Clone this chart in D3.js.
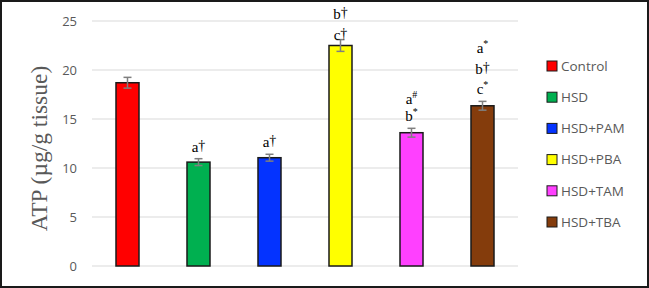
<!DOCTYPE html>
<html><head><meta charset="utf-8">
<script src="https://cdn.jsdelivr.net/npm/d3@7"></script>
<style>body{margin:0;background:#fff}</style>
</head><body>
<script>
const categories = ["Control","HSD","HSD+PAM","HSD+PBA","HSD+TAM","HSD+TBA"];
const values = [18.7, 10.6, 11.05, 22.5, 13.6, 16.35];
const errors = [0.55, 0.35, 0.35, 0.6, 0.45, 0.45];
const colors = ["#ff0000","#00b050","#0433ff","#ffff00","#ff40ff","#843c0c"];
// annotation lines per bar: [letter, symbol]
const annotations = [
  [],
  [["a","†"]],
  [["a","†"]],
  [["b","†"],["c","†"]],
  [["a","#"],["b","*"]],
  [["a","*"],["b","†"],["c","*"]]
];
const yTicks = [0,5,10,15,20,25];

const W = 649, H = 288;
const svg = d3.select("body").append("svg").attr("width",W).attr("height",H);
svg.append("rect").attr("x",1).attr("y",1).attr("width",W-2).attr("height",H-2)
  .attr("fill","#fff").attr("stroke","#1a1a1a").attr("stroke-width",2);

const x = d3.scaleBand().domain(categories).range([92,518]).paddingInner(0.676).paddingOuter(0.338);
const y = d3.scaleLinear().domain([0,25]).range([266,21]);

// gridlines
svg.append("g").selectAll("line").data(yTicks).join("line")
  .attr("x1",92).attr("x2",518).attr("y1",d=>y(d)).attr("y2",d=>y(d))
  .attr("stroke","#d9d9d9").attr("stroke-width",1.2);

// y axis labels
const yAxis = d3.axisLeft(y).tickValues(yTicks).tickSize(0).tickPadding(0);
const ga = svg.append("g").attr("transform","translate(77,0)").call(yAxis);
ga.select(".domain").remove();
ga.selectAll("text").attr("font-family","'Open Sans', sans-serif").attr("font-size",13).attr("fill","#595959");

// y title
svg.append("text").attr("transform","translate(47,148.5) rotate(-90)")
  .attr("text-anchor","middle").attr("font-family","'Liberation Serif', serif")
  .attr("font-size",23.5).attr("fill","#595959").text("ATP (µg/g tissue)");

// bars
svg.append("g").selectAll("rect").data(categories).join("rect")
  .attr("x",d=>x(d)).attr("width",x.bandwidth())
  .attr("y",(d,i)=>y(values[i])).attr("height",(d,i)=>y(0)-y(values[i]))
  .attr("fill",(d,i)=>colors[i]).attr("stroke","#1a1a1a").attr("stroke-width",1.5);

// error bars
const eg = svg.append("g").attr("stroke","#7f7f7f").attr("stroke-width",1.5);
categories.forEach((c,i)=>{
  const cx = x(c)+x.bandwidth()/2;
  const y1 = y(values[i]+errors[i]), y2 = y(values[i]-errors[i]);
  eg.append("line").attr("x1",cx).attr("x2",cx).attr("y1",y1).attr("y2",y2);
  eg.append("line").attr("x1",cx-4).attr("x2",cx+4).attr("y1",y1).attr("y2",y1);
  eg.append("line").attr("x1",cx-4).attr("x2",cx+4).attr("y1",y2).attr("y2",y2);
});

// annotations
categories.forEach((c,i)=>{
  const cx = x(c)+x.bandwidth()/2;
  const lines = annotations[i];
  const n = lines.length;
  const gap = c === "HSD+PBA" ? 0 : 7;
  const step = c === "HSD+TAM" ? 17 : 20.5;
  const base = y(values[i]+errors[i]) - gap;
  lines.forEach((l,j)=>{
    const t = svg.append("text").attr("x",cx).attr("y",base - (n-1-j)*step)
      .attr("text-anchor","middle").attr("font-family","'Liberation Serif', serif")
      .attr("font-size",15).attr("fill","#000");
    t.append("tspan").text(l[0]);
    if (l[1] === "†") {
      t.append("tspan").attr("font-size",14).attr("dy",-2).text(l[1]);
    } else {
      t.append("tspan").attr("font-size",10).attr("dy",-6).text(l[1]);
    }
  });
});

// legend
const lg = svg.append("g");
categories.forEach((c,i)=>{
  const cy = 66 + i*31.2;
  lg.append("rect").attr("x",547).attr("y",cy-5).attr("width",10).attr("height",10)
    .attr("fill",colors[i]).attr("stroke","#1a1a1a").attr("stroke-width",1);
  lg.append("text").attr("x",561).attr("y",cy+4.8).attr("font-family","'Open Sans', sans-serif")
    .attr("font-size",13.5).attr("fill","#595959").text(c);
});
</script>
</body></html>
